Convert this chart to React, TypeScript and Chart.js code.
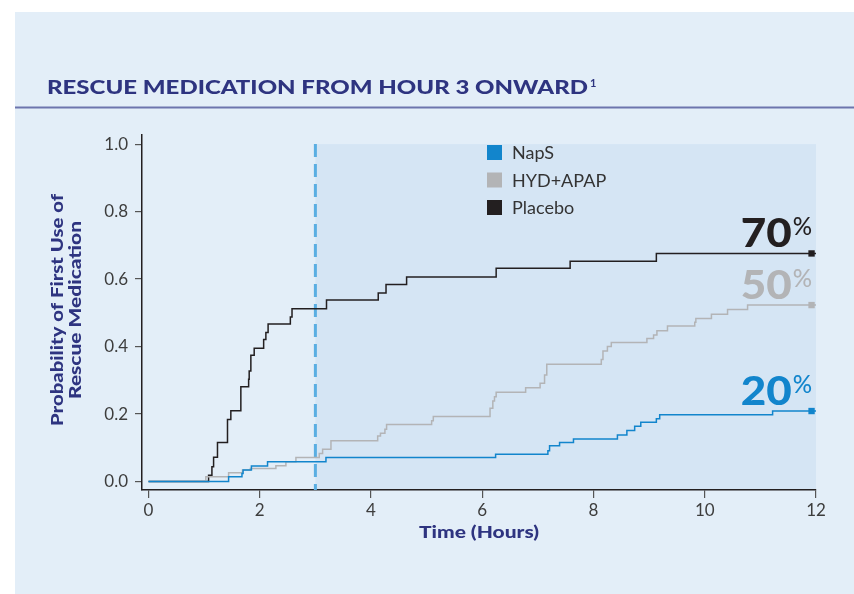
import React, { useEffect, useRef } from 'react';
import { Chart, registerables } from 'chart.js';

Chart.register(...registerables);

// ---------- data ----------
const seriesNames = ['NapS', 'HYD+APAP', 'Placebo'];
const seriesColors = ['#1285cc', '#b3b4b6', '#231f20'];

const napsHours = [0, 1.44, 1.68, 1.7, 1.85, 2.14, 3.19, 6.24, 7.18, 7.21, 7.39, 7.64, 8.43, 8.6, 8.74, 8.85, 9.13, 9.19, 11.22, 12];
const napsProb = [0, 0.014, 0.024, 0.034, 0.046, 0.059, 0.071, 0.081, 0.091, 0.106, 0.116, 0.126, 0.138, 0.151, 0.164, 0.176, 0.186, 0.198, 0.209, 0.209];

const hydHours = [0, 1.03, 1.44, 1.69, 1.83, 2.29, 2.47, 2.65, 3.07, 3.13, 3.28, 4.12, 4.17, 4.25, 4.28, 5.09, 5.12, 6.14, 6.19, 6.22, 6.25, 6.78, 7.04, 7.12, 7.16, 8.14, 8.17, 8.25, 8.32, 8.96, 9.08, 9.14, 9.33, 9.82, 9.84, 10.12, 10.41, 10.77, 12];
const hydProb = [0, 0.014, 0.026, 0.034, 0.039, 0.047, 0.059, 0.071, 0.083, 0.096, 0.121, 0.135, 0.143, 0.155, 0.169, 0.18, 0.193, 0.217, 0.239, 0.251, 0.265, 0.278, 0.291, 0.316, 0.348, 0.362, 0.387, 0.4, 0.412, 0.424, 0.434, 0.447, 0.461, 0.472, 0.483, 0.496, 0.51, 0.523, 0.523];

const placeboHours = [0, 1.08, 1.14, 1.17, 1.24, 1.42, 1.48, 1.66, 1.8, 1.81, 1.84, 1.9, 2.07, 2.11, 2.15, 2.55, 2.58, 3.2, 4.13, 4.27, 4.64, 6.25, 7.58, 9.13, 12];
const placeboProb = [0, 0.019, 0.044, 0.072, 0.116, 0.184, 0.21, 0.281, 0.303, 0.328, 0.374, 0.395, 0.421, 0.442, 0.467, 0.488, 0.512, 0.538, 0.559, 0.584, 0.606, 0.632, 0.653, 0.676, 0.676];

const endPercentLabels = ['20', '50', '70'];
const endMarkerHour = 11.92;
const rescueStartHour = 3;

const xTickValues = [0, 2, 4, 6, 8, 10, 12];
const yTickValues = [0, 0.2, 0.4, 0.6, 0.8, 1.0];

const chartTitle = 'RESCUE MEDICATION FROM HOUR 3 ONWARD';
const titleNote = '1';
const yTitleLines = ['Probability of First Use of', 'Rescue Medication'];
const xTitle = 'Time (Hours)';

// ---------- styling ----------
const NAVY = '#2e3480';
const PANEL = '#e3eef8';
const SHADE = '#d5e5f4';
const FONT = 'Lato, "Open Sans", sans-serif';

const allHours = [napsHours, hydHours, placeboHours];
const allProb = [napsProb, hydProb, placeboProb];

// draw text horizontally scaled to a target width, starting at x (left)
function fitText(ctx: any, text: string, x: number, y: number, targetW: number) {
  const w = ctx.measureText(text).width;
  const sx = targetW / w;
  ctx.save();
  ctx.translate(x, y);
  ctx.scale(sx, 1);
  ctx.textAlign = 'left';
  ctx.fillText(text, 0, 0);
  ctx.restore();
}

const decorPlugin = {
  id: 'decor',
  beforeDraw(chart: any) {
    const { ctx, width, height } = chart;
    const area = chart.chartArea;
    const xs = chart.scales.x;
    const ys = chart.scales.y;
    ctx.save();
    ctx.fillStyle = '#ffffff';
    ctx.fillRect(0, 0, width, height);
    ctx.fillStyle = PANEL;
    ctx.fillRect(15, 12, width - 15, height - 12);

    // title
    ctx.fillStyle = NAVY;
    ctx.textBaseline = 'alphabetic';
    ctx.font = `900 19px ${FONT}`;
    fitText(ctx, chartTitle, 47, 94, 541);
    ctx.font = `bold 11px ${FONT}`;
    ctx.textAlign = 'left';
    ctx.fillText(titleNote, 47 + 541 + 2, 87);

    // rule
    ctx.strokeStyle = '#6d75ad';
    ctx.lineWidth = 2;
    ctx.beginPath();
    ctx.moveTo(15, 107.5);
    ctx.lineTo(width, 107.5);
    ctx.stroke();

    // shaded region from hour 3
    const x0 = xs.getPixelForValue(rescueStartHour);
    const yTop = ys.getPixelForValue(1);
    ctx.fillStyle = SHADE;
    ctx.fillRect(x0, yTop, area.right - x0, area.bottom - yTop);
    ctx.restore();
  },
  beforeDatasetsDraw(chart: any) {
    const { ctx } = chart;
    const area = chart.chartArea;
    const x0 = chart.scales.x.getPixelForValue(rescueStartHour);
    const yTop = chart.scales.y.getPixelForValue(1);
    ctx.save();
    ctx.strokeStyle = '#5aaee2';
    ctx.lineWidth = 3;
    ctx.setLineDash([13, 7]);
    ctx.beginPath();
    ctx.moveTo(x0, yTop);
    ctx.lineTo(x0, area.bottom);
    ctx.stroke();
    ctx.restore();
  },
  afterDraw(chart: any) {
    const { ctx } = chart;
    const area = chart.chartArea;
    const ys = chart.scales.y;
    ctx.save();

    // legend
    ctx.font = `18px ${FONT}`;
    ctx.textAlign = 'left';
    ctx.textBaseline = 'middle';
    seriesNames.forEach((name, i) => {
      const top = 145 + i * 27.5;
      ctx.fillStyle = seriesColors[i];
      ctx.fillRect(487, top, 15, 15);
      ctx.fillStyle = '#333333';
      ctx.fillText(name, 512, top + 8.5);
    });

    // end percent labels
    const right = area.right - 4;
    endPercentLabels.forEach((lab, i) => {
      const p = allProb[i];
      const yPix = ys.getPixelForValue(p[p.length - 1]);
      ctx.fillStyle = seriesColors[i];
      ctx.textBaseline = 'alphabetic';
      ctx.textAlign = 'right';
      ctx.font = `500 24px ${FONT}`;
      const pw = ctx.measureText('%').width;
      ctx.fillText('%', right, yPix - 18);
      ctx.font = `900 40px ${FONT}`;
      fitText(ctx, lab, right - pw - 52, yPix - 6, 51);
    });

    // axis titles
    ctx.fillStyle = NAVY;
    ctx.textBaseline = 'middle';
    ctx.font = `900 17px ${FONT}`;
    const cx = (area.left + area.right) / 2;
    fitText(ctx, xTitle, cx - 60, 533, 120);

    ctx.save();
    ctx.translate(58, 310);
    ctx.rotate(-Math.PI / 2);
    ctx.font = `900 16px ${FONT}`;
    fitText(ctx, yTitleLines[0], -116, 0, 232);
    fitText(ctx, yTitleLines[1], -89, 18, 178);
    ctx.restore();

    ctx.restore();
  },
};

export default function App() {
  const ref = useRef<HTMLCanvasElement>(null);

  useEffect(() => {
    const lineSets = seriesNames.map((name, i) => ({
      label: name,
      data: allHours[i].map((h, k) => ({ x: h, y: allProb[i][k] })),
      borderColor: seriesColors[i],
      borderWidth: 1.5,
      stepped: 'before' as const,
      pointRadius: 0,
      fill: false,
    }));
    const markerSets = seriesNames.map((name, i) => ({
      label: name + ' end',
      data: [{ x: endMarkerHour, y: allProb[i][allProb[i].length - 1] }],
      showLine: false,
      pointStyle: 'rect' as const,
      pointRadius: 4.5,
      backgroundColor: seriesColors[i],
      borderWidth: 0,
    }));

    const chart = new Chart(ref.current!, {
      type: 'line',
      data: { datasets: [...lineSets, ...markerSets] as any },
      options: {
        animation: false,
        responsive: false,
        devicePixelRatio: 1,
        layout: { padding: { top: 135, right: 38, left: 0, bottom: 0 } },
        plugins: { legend: { display: false }, tooltip: { enabled: false } },
        scales: {
          x: {
            type: 'linear',
            min: -0.117,
            max: 12,
            afterBuildTicks: (s: any) => {
              s.ticks = xTickValues.map((v) => ({ value: v }));
            },
            afterFit: (s: any) => {
              s.height = 104;
            },
            grid: { drawOnChartArea: false, drawTicks: true, tickLength: 8, color: '#555555', lineWidth: 1.2 },
            border: { display: true, color: '#231f20', width: 1.5 },
            ticks: { font: { family: FONT, size: 17 }, color: '#3d3d3d', padding: 2, maxRotation: 0 },
          },
          y: {
            type: 'linear',
            min: -0.025,
            max: 1.027,
            afterBuildTicks: (s: any) => {
              s.ticks = yTickValues.map((v) => ({ value: v }));
            },
            afterFit: (s: any) => {
              s.width = 142;
            },
            grid: { drawOnChartArea: false, drawTicks: true, tickLength: 7, color: '#555555', lineWidth: 1.2 },
            border: { display: true, color: '#231f20', width: 1.5 },
            ticks: {
              font: { family: FONT, size: 17 },
              color: '#3d3d3d',
              padding: 7,
              callback: (v: any) => Number(v).toFixed(1),
            },
          },
        },
      },
      plugins: [decorPlugin],
    });
    return () => chart.destroy();
  }, []);

  return (
    <div style={{ position: 'fixed', left: 0, top: 0, width: 854, height: 594 }}>
      <canvas ref={ref} width={854} height={594} style={{ display: 'block', width: 854, height: 594 }} />
    </div>
  );
}
